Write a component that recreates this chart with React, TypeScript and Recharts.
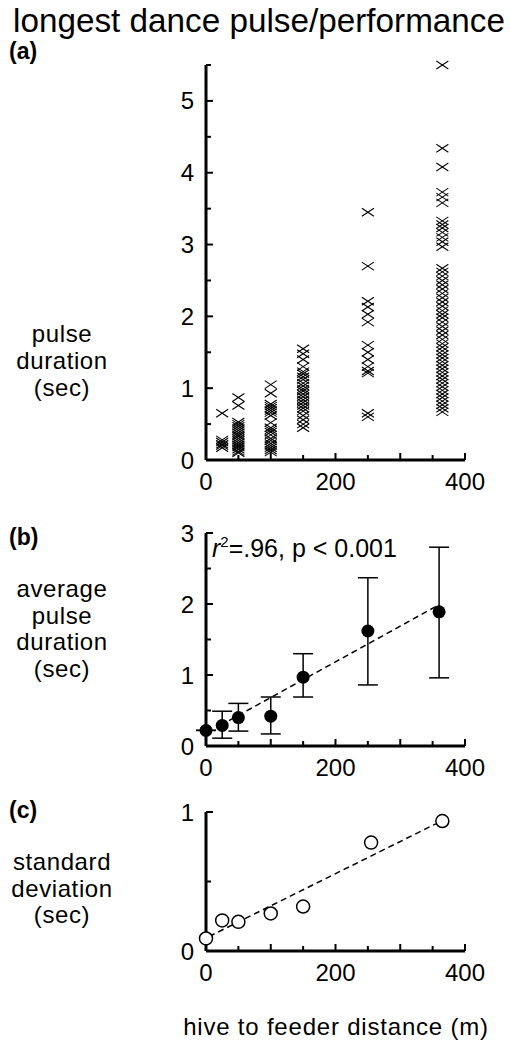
import React from "react";
import { ScatterChart, Scatter, XAxis, YAxis, ErrorBar } from "recharts";

// (a) longest pulse per performance, one column per feeder distance
const pulseAt25 = [0.65, 0.28, 0.25, 0.22, 0.2, 0.17];
const pulseAt50 = [0.87, 0.76, 0.53, 0.5, 0.47, 0.44, 0.41, 0.38, 0.35, 0.33, 0.3, 0.27, 0.24, 0.21, 0.18, 0.15, 0.12, 0.1];
const pulseAt100 = [1.05, 0.93, 0.78, 0.75, 0.72, 0.69, 0.66, 0.62, 0.52, 0.45, 0.42, 0.39, 0.35, 0.3, 0.27, 0.23, 0.2, 0.17, 0.14, 0.11];
const pulseAt150 = [1.55, 1.48, 1.4, 1.3, 1.23, 1.2, 1.16, 1.12, 1.07, 1.03, 0.99, 0.96, 0.92, 0.88, 0.84, 0.8, 0.76, 0.72, 0.68, 0.62, 0.56, 0.5, 0.45];
const pulseAt250 = [3.45, 2.7, 2.21, 2.13, 2.03, 1.92, 1.6, 1.5, 1.4, 1.3, 1.24, 1.21, 0.65, 0.6];
const pulseAt365 = [5.5, 4.34, 4.08, 3.73, 3.66, 3.58, 3.33, 3.28, 3.23, 3.17, 3.1, 3.04, 2.97, 2.67, 2.62, 2.56, 2.5, 2.44, 2.38, 2.32, 2.26, 2.2, 2.14, 2.08, 2.03, 1.98, 1.92, 1.86, 1.8, 1.74, 1.68, 1.62, 1.57, 1.52, 1.47, 1.42, 1.37, 1.32, 1.27, 1.22, 1.17, 1.12, 1.07, 1.02, 0.97, 0.92, 0.87, 0.82, 0.77, 0.72, 0.67];
const columnsA: [number, number[]][] = [
  [25, pulseAt25], [50, pulseAt50], [100, pulseAt100],
  [150, pulseAt150], [250, pulseAt250], [365, pulseAt365],
];

// (b) average pulse duration with range bars
const distB = [0, 25, 50, 100, 150, 250, 360];
const meanB = [0.22, 0.29, 0.4, 0.42, 0.97, 1.62, 1.89];
const hiB = [0.22, 0.49, 0.6, 0.69, 1.3, 2.37, 2.8];
const loB = [0.22, 0.11, 0.21, 0.17, 0.69, 0.86, 0.96];
const fitBx = [22, 358];
const fitBy = [0.29, 1.98];

// (c) standard deviation
const distC = [0, 25, 50, 100, 150, 255, 365];
const sdC = [0.09, 0.22, 0.21, 0.27, 0.32, 0.78, 0.935];
const fitCx = [5, 355];
const fitCy = [0.105, 0.915];

const xTicks = [0, 50, 100, 150, 200, 250, 300, 350, 400];
const xLabels = [0, 200, 400];
const yTicksA = [0, 0.5, 1, 1.5, 2, 2.5, 3, 3.5, 4, 4.5, 5, 5.5];
const yTicksB = [0, 0.5, 1, 1.5, 2, 2.5, 3];
const yTicksC = [0, 0.5, 1];

const pointsA = columnsA.flatMap(([x, ys]) => ys.map((y) => ({ x, y })));
const tableB = distB.map((x, i) => ({ x, y: meanB[i], err: [meanB[i] - loB[i], hiB[i] - meanB[i]] }));
const lineB = fitBx.map((x, i) => ({ x, y: fitBy[i] }));
const tableC = distC.map((x, i) => ({ x, y: sdC[i] }));
const lineC = fitCx.map((x, i) => ({ x, y: fitCy[i] }));

const FONT = "'Liberation Sans', Arial, Helvetica, sans-serif";

const YTick = (props: any) => {
  const { x, y, payload } = props;
  const v = payload.value;
  const major = Number.isInteger(v);
  return (
    <g>
      <line x1={x} x2={x + (major ? 7 : 5)} y1={y} y2={y} stroke="#000" strokeWidth={2} />
      {major && (
        <text x={x - 12} y={y + 8.5} textAnchor="end" fontSize={24} fontFamily={FONT} fill="#000">
          {v}
        </text>
      )}
    </g>
  );
};

const XTick = (props: any) => {
  const { x, y, payload } = props;
  const v = payload.value;
  const major = v % 100 === 0;
  return (
    <g>
      <line x1={x} x2={x} y1={y} y2={y - (major ? 7 : 5)} stroke="#000" strokeWidth={2} />
      {xLabels.includes(v) && (
        <text x={x} y={y + 30} textAnchor="middle" fontSize={24} fontFamily={FONT} fill="#000">
          {v}
        </text>
      )}
    </g>
  );
};

const Cross = (props: any) => {
  const { cx, cy } = props;
  return (
    <g stroke="#000" strokeWidth={1.1}>
      <line x1={cx - 6} y1={cy - 4} x2={cx + 6} y2={cy + 4} />
      <line x1={cx - 6} y1={cy + 4} x2={cx + 6} y2={cy - 4} />
    </g>
  );
};

const Dot = (props: any) => <circle cx={props.cx} cy={props.cy} r={6.5} fill="#000" />;
const Ring = (props: any) => <circle cx={props.cx} cy={props.cy} r={6.5} fill="#fff" stroke="#000" strokeWidth={1.5} />;
const Nothing = () => <g />;

const axisLine = { stroke: "#000", strokeWidth: 3 };

function Axes({ yTicks, yMax, gapX, gapY }: { yTicks: number[]; yMax: number; gapX: number; gapY: number }) {
  return [
    <XAxis key="xp" xAxisId="pad" type="number" domain={[0, 1]} height={gapY} axisLine={false} tick={false} tickLine={false} />,
    <XAxis key="xm" xAxisId="main" type="number" dataKey="x" domain={[0, 400]} ticks={xTicks} interval={0}
      height={40} axisLine={axisLine} tickLine={false} tickSize={0} tickMargin={0} tick={<XTick />} />,
    <YAxis key="yp" yAxisId="pad" type="number" domain={[0, 1]} width={gapX} axisLine={false} tick={false} tickLine={false} />,
    <YAxis key="ym" yAxisId="main" type="number" dataKey="y" domain={[0, yMax]} ticks={yTicks} interval={0}
      width={40} axisLine={axisLine} tickLine={false} tickSize={0} tickMargin={0} tick={<YTick />} />,
  ];
}

const box = (top: number): React.CSSProperties => ({ position: "absolute", left: 0, top });
const text = (left: number, top: number, width: number, extra: React.CSSProperties = {}): React.CSSProperties => ({
  position: "absolute", left, top, width, textAlign: "center", fontFamily: FONT, fontSize: 24,
  letterSpacing: 0.6, lineHeight: "26.5px", color: "#000", ...extra,
});

export default function App() {
  return (
    <div style={{ position: "absolute", left: 0, top: 0, width: 510, height: 1050, background: "#fff" }}>
      <svg width={510} height={42} style={{ position: "absolute", left: 0, top: 0, overflow: "visible" }}>
        <text x={13} y={32} fontSize={33} fontFamily={FONT} textLength={492} lengthAdjust="spacingAndGlyphs" fill="#000">
          longest dance pulse/performance
        </text>
      </svg>

      <div style={text(9, 40, 44, { fontWeight: "bold", textAlign: "left", fontSize: 23, lineHeight: "22px", letterSpacing: 0 })}>(a)</div>
      <div style={text(0, 320, 124, { lineHeight: "27px" })}>pulse<br />duration<br />(sec)</div>

      <div style={box(50)}>
        <ScatterChart width={510} height={465} margin={{ top: 15, right: 45, bottom: 0, left: 142 }}>
          {Axes({ yTicks: yTicksA, yMax: 5.5, gapX: 24, gapY: 15 })}
          <Scatter data={pointsA} xAxisId="main" yAxisId="main" shape={<Cross />} isAnimationActive={false} />
        </ScatterChart>
      </div>

      <div style={text(9, 526, 44, { fontWeight: "bold", textAlign: "left", fontSize: 23, lineHeight: "22px", letterSpacing: 0 })}>(b)</div>
      <div style={text(212, 535, 270, { textAlign: "left", fontSize: 25, letterSpacing: 0 })}>
        <i>r</i><sup style={{ fontSize: 15, verticalAlign: 10, lineHeight: 0 }}>2</sup>=.96, p &lt; 0.001
      </div>
      <div style={text(0, 576, 124)}>average<br />pulse<br />duration<br />(sec)</div>

      <div style={box(515)}>
        <ScatterChart width={510} height={290} margin={{ top: 18, right: 45, bottom: 0, left: 142 }}>
          {Axes({ yTicks: yTicksB, yMax: 3, gapX: 24, gapY: 19 })}
          <Scatter data={lineB} xAxisId="main" yAxisId="main" shape={<Nothing />} isAnimationActive={false}
            line={{ stroke: "#000", strokeWidth: 1.5, strokeDasharray: "6 4" }} />
          <Scatter data={tableB} xAxisId="main" yAxisId="main" shape={<Dot />} isAnimationActive={false}>
            <ErrorBar dataKey="err" direction="y" width={10} stroke="#000" strokeWidth={1.5} isAnimationActive={false} />
          </Scatter>
        </ScatterChart>
      </div>

      <div style={text(9, 799, 44, { fontWeight: "bold", textAlign: "left", fontSize: 23, lineHeight: "22px", letterSpacing: 0 })}>(c)</div>
      <div style={text(0, 849, 124, { lineHeight: "26.5px" })}>standard<br />deviation<br />(sec)</div>

      <div style={box(800)}>
        <ScatterChart width={510} height={205} margin={{ top: 12, right: 45, bottom: 0, left: 142 }}>
          {Axes({ yTicks: yTicksC, yMax: 1, gapX: 24, gapY: 14 })}
          <Scatter data={lineC} xAxisId="main" yAxisId="main" shape={<Nothing />} isAnimationActive={false}
            line={{ stroke: "#000", strokeWidth: 1.5, strokeDasharray: "6 4" }} />
          <Scatter data={tableC} xAxisId="main" yAxisId="main" shape={<Ring />} isAnimationActive={false} />
        </ScatterChart>
      </div>

      <div style={text(150, 1014, 372, { letterSpacing: 0.8 })}>hive to feeder distance (m)</div>
    </div>
  );
}
